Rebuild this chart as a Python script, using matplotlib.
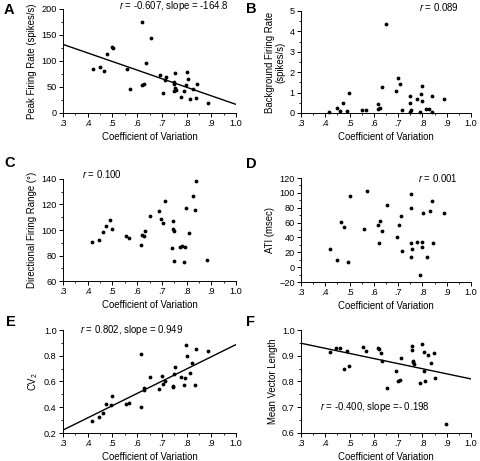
import matplotlib
matplotlib.use("Agg")
import matplotlib.pyplot as plt
import numpy as np
from matplotlib.ticker import MultipleLocator

plt.rcParams['font.family'] = ['Liberation Sans', 'DejaVu Sans']
plt.rcParams['mathtext.fontset'] = 'custom'
plt.rcParams['mathtext.rm'] = 'Liberation Sans'
plt.rcParams['mathtext.it'] = 'Liberation Sans:italic'

# ---------------- data ----------------
xA = [0.421, 0.451, 0.466, 0.478, 0.497, 0.503, 0.558, 0.573, 0.621, 0.620, 0.628, 0.636, 0.656,
      0.693, 0.704, 0.712, 0.716, 0.754, 0.751, 0.751, 0.754, 0.749, 0.756, 0.778, 0.790, 0.797,
      0.800, 0.804, 0.815, 0.828, 0.837, 0.841, 0.888]
yA = [84.5, 87.7, 80, 114, 127, 124.5, 83.9, 47, 174.8, 53.5, 56, 96.8, 144.5,
      73.5, 38.7, 62.6, 69, 76, 60, 55.5, 49, 42, 45, 31, 43, 54,
      79.4, 65, 27.7, 45.8, 29.7, 56, 19.4]
lineA = (181.4, -164.8)

xB = [0.417, 0.447, 0.462, 0.473, 0.490, 0.496, 0.553, 0.568, 0.616, 0.618, 0.625, 0.632, 0.652,
      0.690, 0.700, 0.708, 0.715, 0.747, 0.750, 0.750, 0.752, 0.779, 0.788, 0.795, 0.798, 0.799,
      0.816, 0.825, 0.839, 0.839, 0.888]
yB = [0.05, 0.24, 0.10, 0.47, 0.08, 0.96, 0.15, 0.15, 0.45, 0.19, 0.24, 1.25, 4.38,
      1.10, 1.70, 1.41, 0.13, 0.05, 0.81, 0.50, 0.15, 0.68, 0.05, 0.93, 0.57, 1.30,
      0.21, 0.19, 0.05, 0.83, 0.70]

xC = [0.416, 0.447, 0.461, 0.472, 0.491, 0.497, 0.553, 0.568, 0.614, 0.618, 0.626, 0.630, 0.651,
      0.688, 0.697, 0.705, 0.712, 0.744, 0.746, 0.749, 0.743, 0.750, 0.772, 0.783, 0.792, 0.790,
      0.797, 0.810, 0.825, 0.833, 0.837, 0.883]
yC = [90.2, 92.3, 98.8, 102.8, 107.7, 101, 95, 93.9, 88.6, 95.7, 95.2, 99.4, 111,
      114.6, 108.3, 105.4, 122.9, 106.7, 100.7, 99.6, 86, 76, 86.5, 87.6, 86.8, 75,
      117, 98, 127, 115.6, 138.5, 76.3]

xD = [0.420, 0.449, 0.463, 0.475, 0.493, 0.500, 0.558, 0.571, 0.618, 0.621, 0.627, 0.634, 0.655,
      0.696, 0.703, 0.711, 0.715, 0.751, 0.753, 0.751, 0.751, 0.755, 0.779, 0.800, 0.792, 0.797,
      0.801, 0.818, 0.830, 0.839, 0.842, 0.890]
yD = [24.3, 9.4, 61.3, 54, 6.6, 95.2, 51.8, 102, 56.8, 32.8, 62.7, 48.2, 84.3,
      40, 56.3, 69.4, 21.6, 98.8, 79.8, 32.8, 13.4, 24.7, 34.2, 33.7, -10.5, 26.5,
      73.5, 13.9, 75.8, 89.3, 32.8, 72.6]

xE = [0.417, 0.447, 0.461, 0.473, 0.493, 0.498, 0.555, 0.569, 0.615, 0.617, 0.626, 0.628, 0.651,
      0.689, 0.699, 0.704, 0.712, 0.746, 0.746, 0.750, 0.752, 0.776, 0.788, 0.793, 0.797, 0.800,
      0.812, 0.823, 0.834, 0.838, 0.886]
yE = [0.295, 0.324, 0.352, 0.422, 0.419, 0.489, 0.425, 0.432, 0.399, 0.812, 0.546, 0.533, 0.634,
      0.538, 0.639, 0.579, 0.603, 0.566, 0.554, 0.657, 0.716, 0.634, 0.574, 0.628, 0.886, 0.801,
      0.664, 0.742, 0.569, 0.855, 0.837]
lineE = (-0.062, 0.949)

xF = [0.418, 0.445, 0.460, 0.475, 0.491, 0.498, 0.555, 0.569, 0.619, 0.622, 0.628, 0.635, 0.653,
      0.692, 0.700, 0.708, 0.713, 0.758, 0.759, 0.761, 0.762, 0.764, 0.788, 0.799, 0.806, 0.807,
      0.810, 0.824, 0.836, 0.848, 0.850, 0.896]
yF = [0.913, 0.929, 0.929, 0.849, 0.918, 0.860, 0.934, 0.919, 0.930, 0.926, 0.912, 0.878, 0.773,
      0.839, 0.803, 0.806, 0.891, 0.936, 0.921, 0.879, 0.874, 0.869, 0.796, 0.947, 0.839, 0.916,
      0.803, 0.904, 0.871, 0.909, 0.814, 0.635]
lineF = (1.008, -0.198)

xticks = [0.3, 0.4, 0.5, 0.6, 0.7, 0.8, 0.9, 1.0]
xticklabels = ['.3', '.4', '.5', '.6', '.7', '.8', '.9', '1.0']

# ---------------- figure ----------------
fig = plt.figure(figsize=(4.8, 4.61), dpi=100)

W = 480.0
H = 461.0
def rect(l, r, t, b):
    return [l / W, 1 - b / H, (r - l) / W, (b - t) / H]

TICK_FS = 6.6
LAB_FS = 6.9
RL, RR = 301, 471

def style(ax, ylim, ymaj, ymin, yfmt=None):
    ax.set_xlim(0.3, 1.0)
    ax.set_ylim(*ylim)
    for s in ['top', 'right']:
        ax.spines[s].set_visible(False)
    for s in ['left', 'bottom']:
        ax.spines[s].set_linewidth(0.7)
    ax.set_xticks(xticks)
    ax.set_xticklabels(xticklabels)
    ax.xaxis.set_minor_locator(MultipleLocator(0.05))
    ax.yaxis.set_major_locator(MultipleLocator(ymaj))
    ax.yaxis.set_minor_locator(MultipleLocator(ymin))
    if yfmt:
        ax.yaxis.set_major_formatter(yfmt)
    ax.tick_params(which='major', direction='out', length=3, width=0.7,
                   labelsize=TICK_FS, pad=1.5)
    ax.tick_params(which='minor', direction='out', length=1.5, width=0.6)
    ax.set_xlabel('Coefficient of Variation', fontsize=LAB_FS, labelpad=3)

def dots(ax, x, y):
    ax.scatter(x, y, s=7.5, color='black', zorder=3, linewidths=0, clip_on=False)

def fitline(ax, params):
    a, b = params
    xs = np.array([0.3, 1.0])
    ax.plot(xs, a + b * xs, color='black', lw=1.0, zorder=2)

def letter(x, y, t):
    fig.text(x / W, 1 - y / H, t, fontsize=10.5, fontweight='bold', va='center', ha='left')

fmt1 = matplotlib.ticker.FormatStrFormatter('%.1f')

# A
axA = fig.add_axes(rect(63, 236, 9, 113))
style(axA, (0, 200), 50, 25)
dots(axA, xA, yA)
fitline(axA, lineA)
axA.set_ylabel('Peak Firing Rate (spikes/s)', fontsize=LAB_FS, labelpad=3)
axA.text(0.96, 1.025, r'$r$ = -0.607, slope = -164.8', transform=axA.transAxes,
         ha='right', va='center', fontsize=LAB_FS)
letter(4, 10, 'A')

# B
axB = fig.add_axes(rect(RL, RR, 11, 113))
style(axB, (0, 5), 1, 0.5)
dots(axB, xB, yB)
axB.set_ylabel('Background Firing Rate\n(spikes/s)', fontsize=LAB_FS, labelpad=3, linespacing=1.0)
axB.text(0.93, 1.04, r'$r$ = 0.089', transform=axB.transAxes,
         ha='right', va='center', fontsize=LAB_FS)
letter(246, 9, 'B')

# C
axC = fig.add_axes(rect(63, 236, 179, 281))
style(axC, (60, 140), 20, 10)
dots(axC, xC, yC)
axC.set_ylabel('Directional Firing Range (°)', fontsize=LAB_FS, labelpad=3)
axC.text(0.11, 1.05, r'$r$ = 0.100', transform=axC.transAxes,
         ha='left', va='center', fontsize=LAB_FS)
letter(4, 163, 'C')

# D
axD = fig.add_axes(rect(RL, RR, 178, 282))
style(axD, (-20, 120), 20, 10)
dots(axD, xD, yD)
axD.set_ylabel('ATI (msec)', fontsize=LAB_FS, labelpad=3)
axD.text(0.925, 1.0, r'$r$ = 0.001', transform=axD.transAxes,
         ha='right', va='center', fontsize=LAB_FS)
letter(246, 164, 'D')

# E
axE = fig.add_axes(rect(63, 236, 330, 433))
style(axE, (0.2, 1.0), 0.2, 0.1, fmt1)
dots(axE, xE, yE)
fitline(axE, lineE)
axE.set_ylabel('CV$_2$', fontsize=LAB_FS, labelpad=3)
axE.text(0.1, 1.0, r'$r$ = 0.802, slope = 0.949', transform=axE.transAxes,
         ha='left', va='center', fontsize=LAB_FS)
letter(6, 322, 'E')

# F
axF = fig.add_axes(rect(RL, RR, 330, 433))
style(axF, (0.6, 1.0), 0.1, 0.05, fmt1)
dots(axF, xF, yF)
fitline(axF, lineF)
axF.set_ylabel('Mean Vector Length', fontsize=LAB_FS, labelpad=3)
axF.text(0.11, 0.25, r'$r$ = -0.400, slope =- 0.198', transform=axF.transAxes,
         ha='left', va='center', fontsize=LAB_FS)
letter(246, 322, 'F')

fig.savefig('out.png', dpi=100)
